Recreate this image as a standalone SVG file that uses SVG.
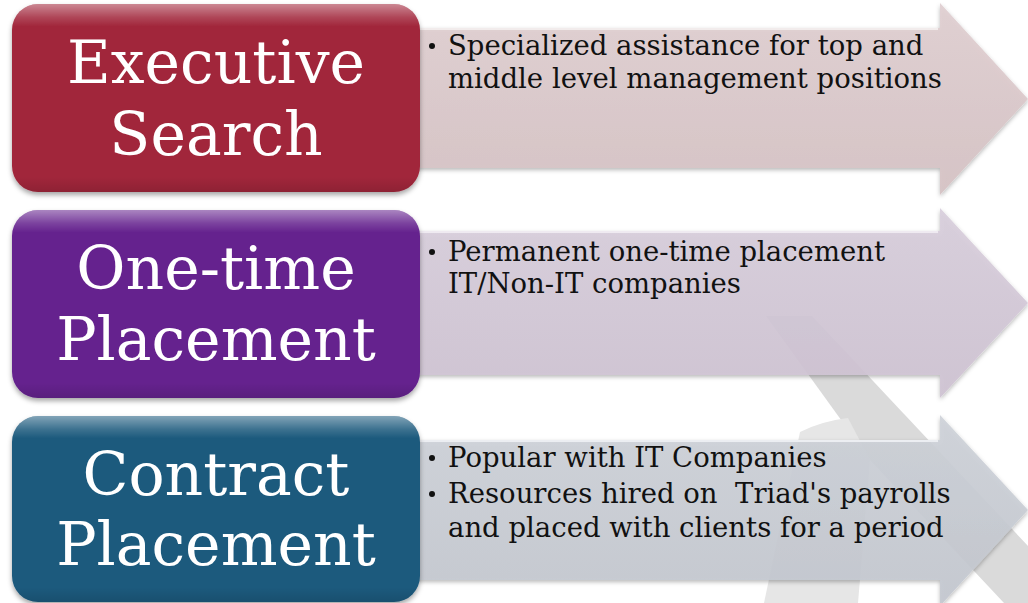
<svg xmlns="http://www.w3.org/2000/svg" width="1028" height="603" viewBox="0 0 1028 603">
<defs>
<style>
.title{font-family:"DejaVu Serif","Liberation Serif",serif;font-size:60px;fill:#ffffff;text-anchor:middle}
.body{font-family:"DejaVu Serif","Liberation Serif",serif;font-size:27.5px;fill:#111111;white-space:pre}
.bullet{fill:#111111}
.gloss{fill:url(#gloss)}
.arrow{filter:url(#ashadow)}
</style>
<linearGradient id="gloss" x1="0" y1="0" x2="0" y2="1">
<stop offset="0" stop-color="#ffffff" stop-opacity="0.45"/>
<stop offset="0.07" stop-color="#ffffff" stop-opacity="0.15"/>
<stop offset="0.12" stop-color="#ffffff" stop-opacity="0"/>
<stop offset="0.92" stop-color="#000000" stop-opacity="0"/>
<stop offset="1" stop-color="#000000" stop-opacity="0.12"/>
</linearGradient>
<linearGradient id="a1" x1="0" y1="0" x2="0" y2="1">
<stop offset="0" stop-color="#e0cfd1"/>
<stop offset="1" stop-color="#d5c2c4"/>
</linearGradient>
<linearGradient id="a2" x1="0" y1="0" x2="0" y2="1">
<stop offset="0" stop-color="#d8cedc"/>
<stop offset="1" stop-color="#cec2d2"/>
</linearGradient>
<linearGradient id="a3" x1="0" y1="0" x2="0" y2="1">
<stop offset="0" stop-color="#ced2d9"/>
<stop offset="1" stop-color="#c3c7cf"/>
</linearGradient>
<filter id="bshadow" x="-5%" y="-5%" width="110%" height="115%">
<feDropShadow dx="0" dy="3" stdDeviation="2.5" flood-color="#000000" flood-opacity="0.35"/>
</filter>
<filter id="ashadow" x="-5%" y="-10%" width="110%" height="125%">
<feDropShadow dx="0" dy="2" stdDeviation="2" flood-color="#000000" flood-opacity="0.3"/>
</filter>
</defs>
<rect width="1028" height="603" fill="#ffffff"/>
<g id="watermark">
<polygon points="766,316 812,316 1028,546 1028,603 1004,603 870,460" fill="#dadada"/>
<path d="M800,432 Q822,421 848,418 L870,460 L858,603 L764,603 Z" fill="#e6e6e6"/>
</g>
<g id="connectors"></g>
<g id="detail-executive">
<polygon class="arrow" points="410,28 940,28 940,3 1028,99 940,195 940,168 410,168" fill="url(#a1)" fill-opacity="0.92"/>
<line x1="410" y1="29" x2="938" y2="29" stroke="#f2ecec" stroke-width="2"/>
<circle class="bullet" cx="432" cy="46" r="3"/>
<text class="body" x="448" y="55">Specialized assistance for top and</text>
<text class="body" x="448" y="88">middle level management positions</text>
</g>
<g id="detail-onetime">
<polygon class="arrow" points="410,231 940,231 940,208 1028,303 940,398 940,375 410,375" fill="url(#a2)" fill-opacity="0.9"/>
<line x1="410" y1="232" x2="938" y2="232" stroke="#efeaf1" stroke-width="2"/>
<circle class="bullet" cx="432" cy="252" r="3"/>
<text class="body" x="448" y="261">Permanent one-time placement</text>
<text class="body" x="448" y="293">IT/Non-IT companies</text>
</g>
<g id="detail-contract">
<polygon class="arrow" points="410,440 940,440 940,415 1028,510 940,606 940,580 410,580" fill="url(#a3)" fill-opacity="0.9"/>
<line x1="410" y1="441" x2="938" y2="441" stroke="#eceef2" stroke-width="2"/>
<circle class="bullet" cx="432" cy="458" r="3"/>
<text class="body" x="448" y="467">Popular with IT Companies</text>
<circle class="bullet" cx="432" cy="494" r="3"/>
<text class="body" x="448" y="503">Resources hired on  Triad's payrolls</text>
<text class="body" x="448" y="537">and placed with clients for a period</text>
</g>
<g id="node-executive">
<rect x="12" y="4" width="408" height="188" rx="26" fill="#a1263a" filter="url(#bshadow)"/>
<rect class="gloss" x="12" y="4" width="408" height="188" rx="26"/>
<text class="title" x="216" y="83">Executive</text>
<text class="title" x="216" y="155">Search</text>
</g>
<g id="node-onetime">
<rect x="12" y="210" width="408" height="188" rx="26" fill="#65218e" filter="url(#bshadow)"/>
<rect class="gloss" x="12" y="210" width="408" height="188" rx="26"/>
<text class="title" x="216" y="289">One-time</text>
<text class="title" x="216" y="360">Placement</text>
</g>
<g id="node-contract">
<rect x="12" y="416" width="408" height="186" rx="26" fill="#1e5a7d" filter="url(#bshadow)"/>
<rect class="gloss" x="12" y="416" width="408" height="186" rx="26"/>
<text class="title" x="216" y="495">Contract</text>
<text class="title" x="216" y="565">Placement</text>
</g>
</svg>
